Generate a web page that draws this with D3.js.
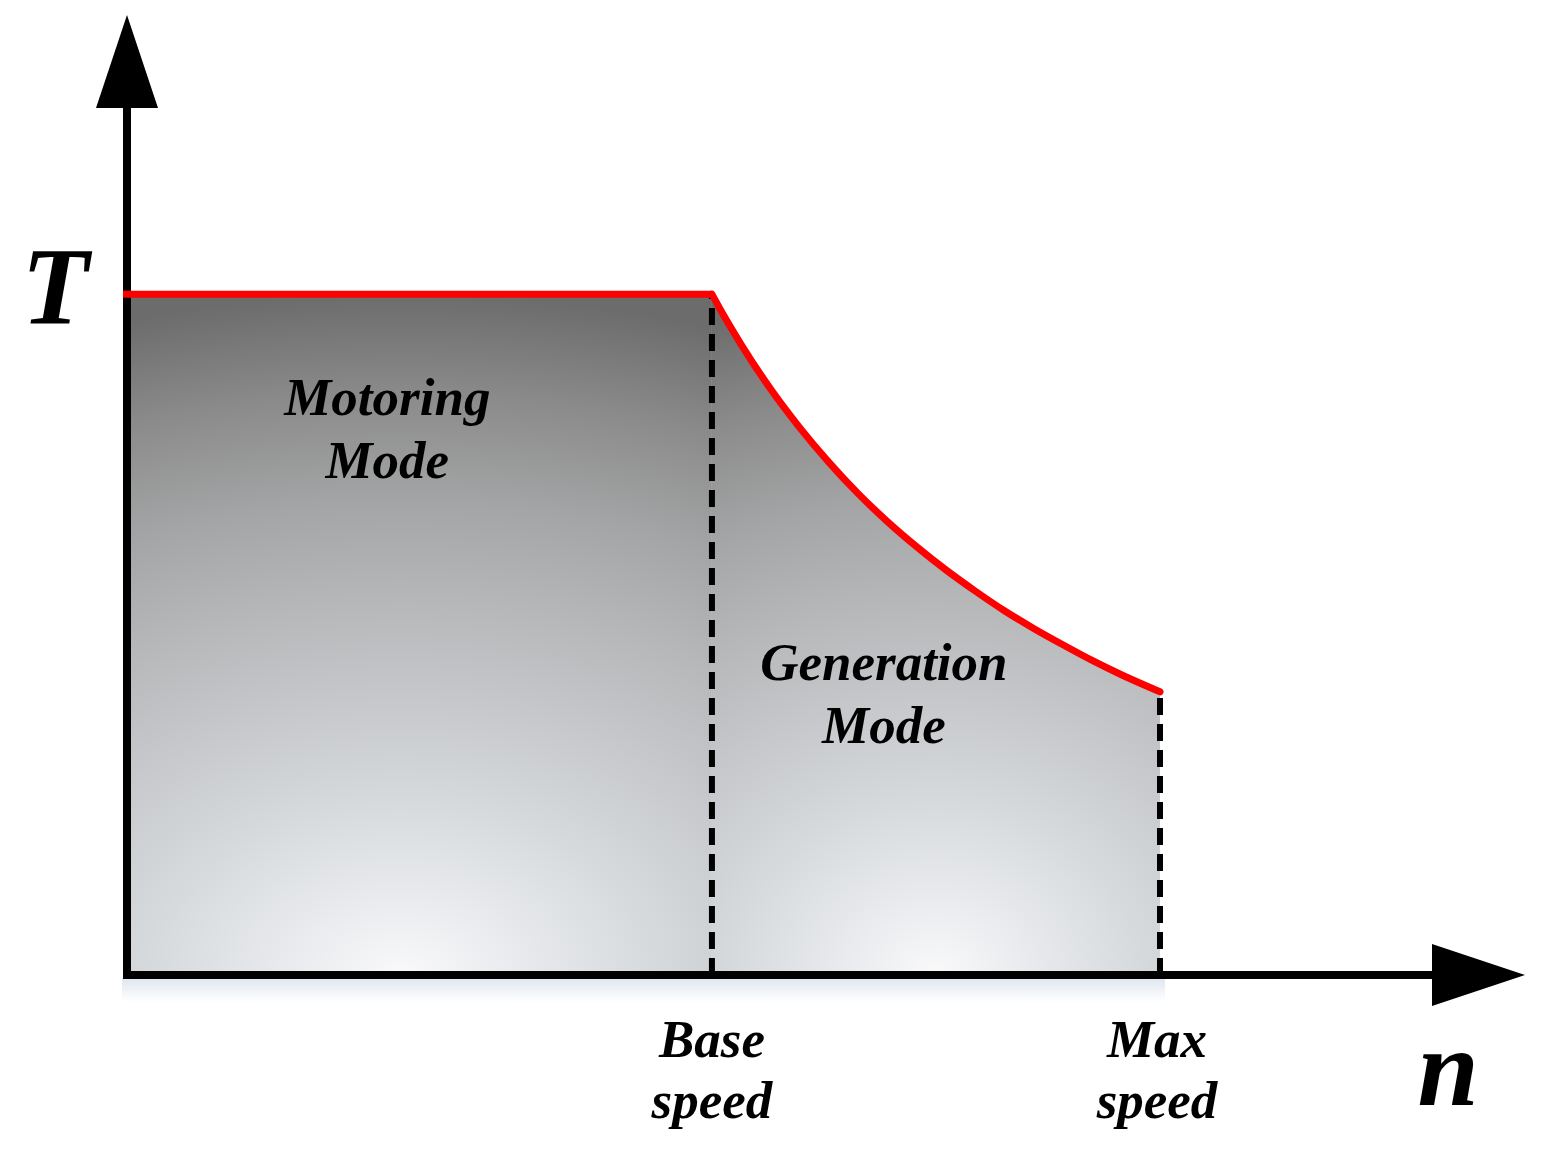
<!DOCTYPE html>
<html>
<head>
<meta charset="utf-8">
<script src="https://cdn.jsdelivr.net/npm/d3@7"></script>
<style>
  html, body { margin: 0; padding: 0; background: #ffffff; }
  svg { display: block; }
  text { font-family: "Liberation Serif", "Times New Roman", serif; font-weight: bold; font-style: italic; fill: #000; }
</style>
</head>
<body>
<script>
// ---------- data ----------
const axisLabels = ["T", "n"];
const modeLabels = [["Motoring", "Mode"], ["Generation", "Mode"]];
const speedTickLabels = [["Base", "speed"], ["Max", "speed"]];
const speedTickValues = [1.0, 1.766];          // base speed, max speed (normalised n)
const ratedTorque = 1.0;                         // constant-torque level
const axisMaxN = 2.39;                           // end of n axis
const axisMaxT = 1.41;                           // end of T axis
// field-weakening curve (n, T) (hand-smoothed)
const curveN = [1.000, 1.020, 1.050, 1.100, 1.150, 1.200, 1.250, 1.300, 1.350, 1.400, 1.450, 1.500, 1.550, 1.600, 1.650, 1.700, 1.766];
const curveT = [1.000, 0.969, 0.926, 0.861, 0.804, 0.753, 0.707, 0.666, 0.629, 0.595, 0.564, 0.535, 0.509, 0.485, 0.462, 0.441, 0.416];

// ---------- layout ----------
const W = 1548, H = 1160;
const svg = d3.select("body").append("svg").attr("width", W).attr("height", H);
const x = d3.scaleLinear().domain([0, axisMaxN]).range([127, 1525]);
const y = d3.scaleLinear().domain([0, axisMaxT]).range([975, 15]);

const defs = svg.append("defs");
const grayStops = [
  [0.00, "#f9f9fa"], [0.11, "#e9ebee"], [0.26, "#d6d9dc"], [0.40, "#c6c8cb"],
  [0.55, "#b6b7b9"], [0.70, "#a3a4a5"], [0.85, "#8b8b8b"], [1.00, "#6c6c6c"]
];
function radial(id, cx, cy, rx, ry) {
  const g = defs.append("radialGradient").attr("id", id)
    .attr("gradientUnits", "userSpaceOnUse")
    .attr("cx", 0).attr("cy", 0).attr("r", 1)
    .attr("gradientTransform", `translate(${cx},${cy}) scale(${rx},${ry})`);
  grayStops.forEach(s => g.append("stop").attr("offset", s[0]).attr("stop-color", s[1]));
}
const nBase = speedTickValues[0], nMax = speedTickValues[1];
radial("gMotor", x(nBase * 0.47), y(0), (x(nBase) - x(0)) * 1.7, y(0) - y(ratedTorque));
radial("gGen", x((nBase + nMax) / 2), y(0), (x(nMax) - x(nBase)) * 1.8, y(0) - y(ratedTorque));

const shadow = defs.append("linearGradient").attr("id", "gShadow").attr("x1", 0).attr("y1", 0).attr("x2", 0).attr("y2", 1);
shadow.append("stop").attr("offset", 0).attr("stop-color", "#dfe6f0");
shadow.append("stop").attr("offset", 1).attr("stop-color", "#ffffff");

// faint shadow under the n axis
svg.append("rect")
  .attr("x", x(0) - 5).attr("y", y(0) + 3)
  .attr("width", x(nMax) - x(0) + 10).attr("height", 24)
  .attr("fill", "url(#gShadow)");

// ---------- regions ----------
const curvePts = curveN.map((n, i) => [n, curveT[i]]);
svg.append("path")
  .attr("d", d3.area().x(d => x(d[0])).y0(y(0)).y1(d => y(d[1]))([[0, ratedTorque], [nBase, ratedTorque]]))
  .attr("fill", "url(#gMotor)");
svg.append("path")
  .attr("d", d3.area().x(d => x(d[0])).y0(y(0)).y1(d => y(d[1])).curve(d3.curveMonotoneX)(curvePts))
  .attr("fill", "url(#gGen)");

// ---------- dashed speed markers ----------
const tDash = [ratedTorque, curveT[curveT.length - 1]];
speedTickValues.forEach((n, i) => {
  svg.append("line")
    .attr("x1", x(n)).attr("x2", x(n))
    .attr("y1", y(0)).attr("y2", y(tDash[i]) + 3)
    .attr("stroke", "#000").attr("stroke-width", 6)
    .attr("stroke-dasharray", "17,9");
});

// ---------- axes ----------
const axisW = 8;
svg.append("line").attr("x1", x(0)).attr("x2", x(0))
  .attr("y1", y(0) + axisW / 2).attr("y2", y(axisMaxT) + 80)
  .attr("stroke", "#000").attr("stroke-width", axisW);
svg.append("line").attr("x1", x(0) - axisW / 2).attr("x2", x(axisMaxN) - 80)
  .attr("y1", y(0)).attr("y2", y(0))
  .attr("stroke", "#000").attr("stroke-width", axisW);
const aL = 93, aH = 31;
svg.append("path")
  .attr("d", `M${x(0)},${y(axisMaxT)} L${x(0) + aH},${y(axisMaxT) + aL} L${x(0) - aH},${y(axisMaxT) + aL} Z`)
  .attr("fill", "#000");
svg.append("path")
  .attr("d", `M${x(axisMaxN)},${y(0)} L${x(axisMaxN) - aL},${y(0) - aH} L${x(axisMaxN) - aL},${y(0) + aH} Z`)
  .attr("fill", "#000");

// ---------- red torque–speed envelope ----------
svg.append("path")
  .attr("d", d3.line().x(d => x(d[0])).y(d => y(d[1]))([[0, ratedTorque], [nBase, ratedTorque]]))
  .attr("fill", "none").attr("stroke", "#ff0000").attr("stroke-width", 7);
svg.append("path")
  .attr("d", d3.line().x(d => x(d[0])).y(d => y(d[1])).curve(d3.curveMonotoneX)(curvePts))
  .attr("fill", "none").attr("stroke", "#ff0000").attr("stroke-width", 7)
  .attr("stroke-linecap", "round").attr("stroke-linejoin", "round");
svg.append("line")
  .attr("x1", x(0) - 4).attr("x2", x(0)).attr("y1", y(ratedTorque)).attr("y2", y(ratedTorque))
  .attr("stroke", "#ff0000").attr("stroke-width", 7);

// ---------- text ----------
svg.append("text").attr("x", 55).attr("y", y(ratedTorque) + 30)
  .attr("text-anchor", "middle").attr("font-size", 110).text(axisLabels[0]);
svg.append("text").attr("x", 1448).attr("y", 1105)
  .attr("text-anchor", "middle").attr("font-size", 110).text(axisLabels[1]);

const modePos = [[x(nBase * 0.445), 415], [x(1.294), 680]];
modeLabels.forEach((lines, i) => {
  lines.forEach((s, j) => {
    svg.append("text").attr("x", modePos[i][0]).attr("y", modePos[i][1] + j * 63)
      .attr("text-anchor", "middle").attr("font-size", 53).text(s);
  });
});

speedTickLabels.forEach((lines, i) => {
  lines.forEach((s, j) => {
    svg.append("text").attr("x", x(speedTickValues[i]) - (i ? 3 : 0)).attr("y", 1057 + j * 61)
      .attr("text-anchor", "middle").attr("font-size", 53).text(s);
  });
});
</script>
</body>
</html>
